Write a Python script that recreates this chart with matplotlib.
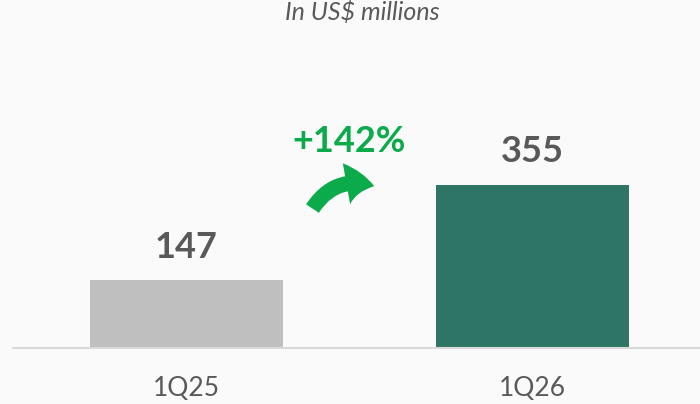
import matplotlib
matplotlib.use("Agg")
from matplotlib import pyplot as plt
from matplotlib.patches import FancyArrowPatch

quarters = ["1Q25", "1Q26"]
values = [147, 355]
bar_colors = ["#BFBFBF", "#2E7566"]
growth_label = "+142%"
subtitle = "In US$ millions"

plt.rcParams["font.family"] = ["Lato", "DejaVu Sans"]

fig = plt.figure(figsize=(7, 4.04), dpi=100)
fig.patch.set_facecolor("#FAFAFA")
ax = fig.add_axes([13 / 700, 56 / 404, 693 / 700, 322 / 404])
ax.set_facecolor("none")

x = range(len(quarters))
bars = ax.bar(x, values, width=0.557, color=bar_colors)
ax.set_xlim(-0.5, 1.5)
ax.set_ylim(0, 700)

for b, v in zip(bars, values):
    ax.annotate(str(v), (b.get_x() + b.get_width() / 2, v), xytext=(0, 12),
                textcoords="offset points", ha="center", va="bottom",
                fontsize=26, fontweight="bold", color="#595959")

ax.set_xticks(list(x))
ax.set_xticklabels(quarters, fontsize=19, color="#595959")
ax.tick_params(axis="x", length=0, pad=20)
ax.set_yticks([])
for s in ["top", "right", "left"]:
    ax.spines[s].set_visible(False)
ax.spines["bottom"].set_color("#D9D9D9")
ax.spines["bottom"].set_linewidth(1.5)

# growth marker between the bars
ax.text(0.47, 450, growth_label, ha="center", va="center", fontsize=26,
        fontweight="bold", color="#0BAA4B")
arrow = FancyArrowPatch((0.36, 298), (0.55, 350),
                        connectionstyle="arc3,rad=-0.4",
                        arrowstyle="simple,head_length=1.0,head_width=1.5,tail_width=0.55",
                        mutation_scale=20, color="#0BAA4B", lw=0)
ax.add_patch(arrow)

fig.text(362 / 700, 1 - 12 / 404, subtitle, ha="center", va="center",
         fontsize=18, style="italic", color="#595959")

fig.savefig("out.png", dpi=100, facecolor=fig.get_facecolor())
